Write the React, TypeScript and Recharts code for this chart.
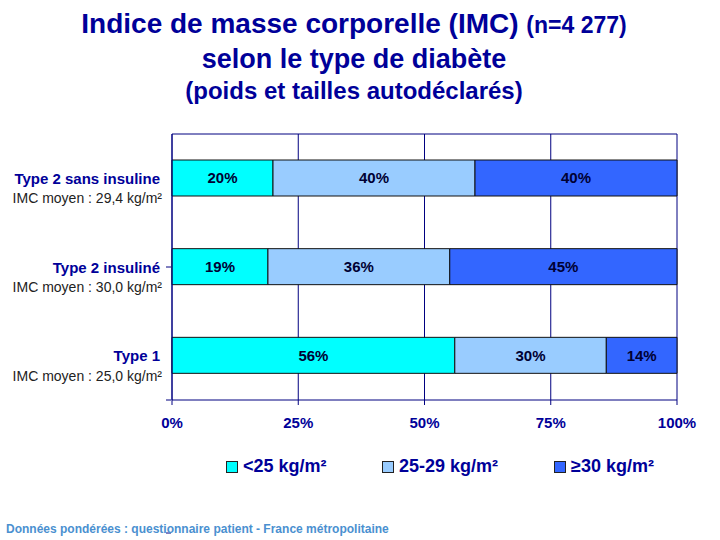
import { Bar, BarChart, CartesianGrid, LabelList, ReferenceLine, XAxis, YAxis } from "recharts";

const categories = ["Type 2 sans insuline", "Type 2 insuliné", "Type 1"];
const imcMoyen = ["IMC moyen : 29,4 kg/m²", "IMC moyen : 30,0 kg/m²", "IMC moyen : 25,0 kg/m²"];
const under25 = [20, 19, 56];
const from25to29 = [40, 36, 30];
const over30 = [40, 45, 14];
const seriesNames = ["<25 kg/m²", "25-29 kg/m²", "≥30 kg/m²"];
const seriesKeys = ["under25", "from25to29", "over30"];
const seriesColors = ["#00FFFF", "#99CCFF", "#3366FF"];
const xTicks = [0, 25, 50, 75, 100];
const bandTicks = [1, 2, 3];

const data = categories.map((name, i) => ({
  name,
  under25: under25[i],
  from25to29: from25to29[i],
  over30: over30[i],
}));

const FONT = "'Liberation Sans', Arial, sans-serif";
const NAVY = "#000099";

function CategoryTick({ x, y, payload, index }: any) {
  const i = payload?.index ?? index ?? categories.indexOf(payload?.value);
  return (
    <g>
      <text x={x} y={y} textAnchor="end" dominantBaseline="central" fontFamily={FONT} fontSize={15} fontWeight="bold" fill={NAVY}>
        {payload.value}
      </text>
      <text x={x + 2} y={y + 20} textAnchor="end" dominantBaseline="central" fontFamily={FONT} fontSize={14} fill="#222">
        {imcMoyen[i]}
      </text>
    </g>
  );
}

export default function App() {
  return (
    <div style={{ position: "absolute", left: 0, top: 0, width: 720, height: 540, background: "#fff", fontFamily: FONT }}>
      <BarChart
        width={720}
        height={540}
        data={data}
        layout="vertical"
        margin={{ top: 134, right: 43, bottom: 110, left: 170 }}
      >
        <CartesianGrid horizontal={false} stroke="#000080" />
        <XAxis
          type="number"
          domain={[0, 100]}
          ticks={xTicks}
          tickFormatter={(v) => `${v}%`}
          axisLine={{ stroke: "#000080" }}
          tickLine={{ stroke: "#000080" }}
          tickSize={5}
          tickMargin={12}
          height={30}
          tick={{ fill: NAVY, fontSize: 15, fontWeight: "bold", fontFamily: FONT }}
        />
        <YAxis
          type="category"
          dataKey="name"
          width={1}
          tickSize={0}
          tickMargin={12}
          axisLine={{ stroke: "#000080" }}
          tickLine={false}
          tick={<CategoryTick />}
        />
        <YAxis
          yAxisId="band"
          type="number"
          domain={[0, 3]}
          ticks={bandTicks}
          width={1}
          tickSize={5}
          axisLine={false}
          tickLine={{ stroke: "#000080" }}
          tickFormatter={() => ""}
        />
        <ReferenceLine yAxisId="band" y={0} stroke="#000080" />
        {seriesKeys.map((key, i) => (
          <Bar key={key} dataKey={key} name={seriesNames[i]} stackId="a" fill={seriesColors[i]} stroke="#111" strokeWidth={1} barSize={36} isAnimationActive={false}>
            <LabelList
              dataKey={key}
              position="center"
              formatter={(v: any) => `${v}%`}
              fill="#000033"
              fontSize={15}
              fontWeight="bold"
              fontFamily={FONT}
            />
          </Bar>
        ))}
      </BarChart>

      <div style={{ position: "absolute", left: 0, top: 7, width: 708, textAlign: "center", color: NAVY, fontWeight: "bold", lineHeight: "34px" }}>
        <div style={{ fontSize: 28 }}>
          Indice de masse corporelle (IMC) <span style={{ fontSize: 23 }}>(n=4 277)</span>
        </div>
        <div style={{ fontSize: 27 }}>selon le type de diabète</div>
        <div style={{ fontSize: 24, lineHeight: "30px" }}>(poids et tailles autodéclarés)</div>
      </div>

      <div style={{ position: "absolute", left: 226, top: 456, display: "flex", alignItems: "center", color: NAVY, fontWeight: "bold", fontSize: 18 }}>
        {seriesNames.map((n, i) => (
          <div key={n} style={{ display: "flex", alignItems: "center", width: i === 0 ? 156 : i === 1 ? 172 : "auto" }}>
            <span style={{ display: "inline-block", width: 10, height: 10, background: seriesColors[i], border: "1px solid #222", marginRight: 5 }} />
            <span>{n}</span>
          </div>
        ))}
      </div>

      <div style={{ position: "absolute", left: 6, top: 522, fontSize: 12, fontWeight: "bold", color: "#4a90d0" }}>
        Données pondérées : questionnaire patient - France métropolitaine
      </div>
    </div>
  );
}
